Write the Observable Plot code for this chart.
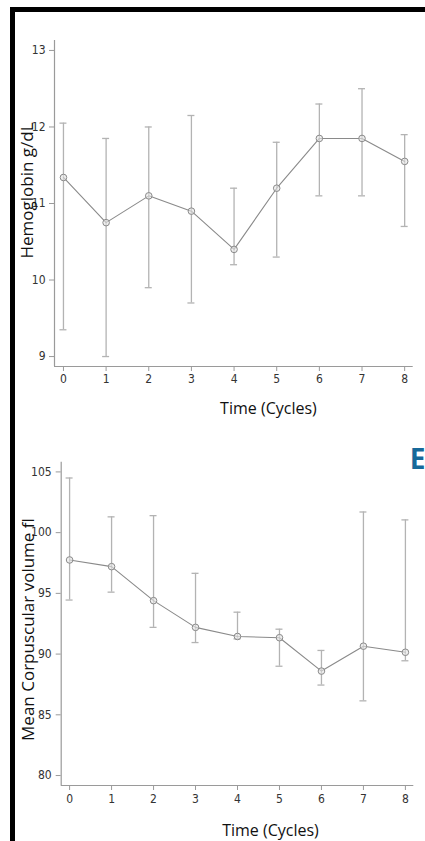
<!DOCTYPE html>
<html>
<head>
<meta charset="utf-8">
<script src="https://cdn.jsdelivr.net/npm/d3@7"></script>
<script src="https://cdn.jsdelivr.net/npm/@observablehq/plot@0.6"></script>
<style>
  html, body { margin: 0; padding: 0; background: #fff; overflow: hidden; width: 425px; height: 841px; }
  #page { position: relative; width: 425px; height: 841px; overflow: hidden; background: #fff; }
  #borderTop { position: absolute; left: 10px; top: 7px; width: 415px; height: 5px; background: #000; }
  #borderLeft { position: absolute; left: 10px; top: 7px; width: 5px; height: 834px; background: #000; }
  .panel { position: absolute; left: 0; }
  #p1 { top: 0; }
  #p2 { top: 420px; }
</style>
</head>
<body>
<div id="page">
  <div id="borderTop"></div>
  <div id="borderLeft"></div>
  <div id="p1" class="panel"></div>
  <div id="p2" class="panel"></div>
</div>
<script>
// ---- Data ----
const timeCycles = [0, 1, 2, 3, 4, 5, 6, 7, 8];

const hbMean = [11.34, 10.75, 11.1, 10.9, 10.4, 11.2, 11.85, 11.85, 11.55];
const hbLow  = [9.35, 9.0, 9.9, 9.7, 10.2, 10.3, 11.1, 11.1, 10.7];
const hbHigh = [12.05, 11.85, 12.0, 12.15, 11.2, 11.8, 12.3, 12.5, 11.9];
const hbTicks = [9, 10, 11, 12, 13];
const hbDomain = [8.87, 13.13];

const mcvMean = [97.75, 97.2, 94.4, 92.2, 91.45, 91.35, 88.6, 90.65, 90.15];
const mcvLow  = [94.45, 95.1, 92.2, 90.95, 91.25, 89.0, 87.45, 86.15, 89.45];
const mcvHigh = [104.5, 101.3, 101.4, 96.65, 93.45, 92.05, 90.3, 101.7, 101.05];
const mcvTicks = [80, 85, 90, 95, 100, 105];
const mcvDomain = [79.18, 105.8];

const xLabel = "Time (Cycles)";
const hbLabel = "Hemoglobin g/dL";
const mcvLabel = "Mean Corpuscular volume fl";
const panelLetter = "E";

// ---- Styles ----
const axisColor = "#9a9a9a";
const barColor = "#b3b3b3";
const lineColor = "#8a8a8a";
const tickFont = "'Liberation Sans Narrow', 'Arial Narrow', 'DejaVu Sans Condensed', sans-serif";
const labelFont = "'Open Sans', 'Noto Sans', sans-serif";

function panel(opts) {
  const data = timeCycles.map((t, i) => ({t, mean: opts.mean[i], low: opts.low[i], high: opts.high[i]}));
  const marks = [
    Plot.axisX({ticks: timeCycles, tickSize: 5, tickPadding: opts.xPad, stroke: axisColor, fill: "#333",
                 fontSize: 12, fontFamily: tickFont, label: null, tickFormat: d => String(d)}),
    Plot.axisY({ticks: opts.yTicks, tickSize: 5, tickPadding: opts.yPad, stroke: axisColor, fill: "#333",
                 fontSize: 12, fontFamily: tickFont, label: null, tickFormat: d => String(d)}),
    Plot.ruleX([opts.xDomain[0]], {stroke: axisColor, strokeWidth: 1.2}),
    Plot.ruleY([opts.yDomain[0]], {stroke: axisColor, strokeWidth: 1.2}),
    // error bars
    Plot.ruleX(data, {x: "t", y1: "low", y2: "high", stroke: barColor, strokeWidth: 1.3}),
    Plot.ruleY(data, {y: "high", x1: "t", x2: "t", insetLeft: -3.5, insetRight: -3.5, stroke: barColor, strokeWidth: 1.3}),
    Plot.ruleY(data, {y: "low", x1: "t", x2: "t", insetLeft: -3.5, insetRight: -3.5, stroke: barColor, strokeWidth: 1.3}),
    // mean line
    Plot.line(data, {x: "t", y: "mean", stroke: lineColor, strokeWidth: 1.1}),
    Plot.dot(data, {x: "t", y: "mean", r: 3.3, stroke: lineColor, fill: "#e6e6e6", fillOpacity: 0.6, strokeWidth: 1}),
    // axis titles
    Plot.text([opts.yLabel], {frameAnchor: "left", text: d => d, rotate: -90, textAnchor: "middle",
               lineAnchor: "middle", dx: opts.yLabelDx, dy: opts.yLabelDy, fontSize: 17,
               fontFamily: labelFont, fill: "#111"}),
    Plot.text([xLabel], {frameAnchor: "bottom", text: d => d, textAnchor: "middle", lineAnchor: "bottom",
               dx: opts.xLabelDx, dy: opts.xLabelDy, fontSize: 16, fontFamily: labelFont, fill: "#111"})
  ];
  if (opts.extra) marks.push(...opts.extra);
  return Plot.plot({
    width: 425,
    height: opts.height,
    marginTop: opts.mt, marginRight: opts.mr, marginBottom: opts.mb, marginLeft: opts.ml,
    x: {domain: opts.xDomain},
    y: {domain: opts.yDomain},
    style: {background: "transparent", fontFamily: tickFont},
    marks
  });
}

document.getElementById("p1").append(panel({
  mean: hbMean, low: hbLow, high: hbHigh,
  yTicks: hbTicks, yDomain: hbDomain, xDomain: [-0.21, 8.2],
  yLabel: hbLabel, height: 420, mt: 40, mr: 12.3, mb: 54, ml: 54,
  xPad: 3, yPad: 4, yLabelDx: -27, yLabelDy: -13, xLabelDx: 34.6, xLabelDy: 47
}));

document.getElementById("p2").append(panel({
  mean: mcvMean, low: mcvLow, high: mcvHigh,
  yTicks: mcvTicks, yDomain: mcvDomain, xDomain: [-0.2, 8.2],
  yLabel: mcvLabel, height: 421, mt: 41.7, mr: 11.7, mb: 56, ml: 60.7,
  xPad: 4, yPad: 4.5, yLabelDx: -33, yLabelDy: 5.7, xLabelDx: 33, xLabelDy: 50,
  extra: [
    Plot.text([panelLetter], {frameAnchor: "top-right", text: d => d, textAnchor: "start", lineAnchor: "bottom",
              dx: -4, dy: 6.3, fontSize: 28, fontWeight: "bold", fontFamily: labelFont, fill: "#17699a"})
  ]
}));
</script>
</body>
</html>
